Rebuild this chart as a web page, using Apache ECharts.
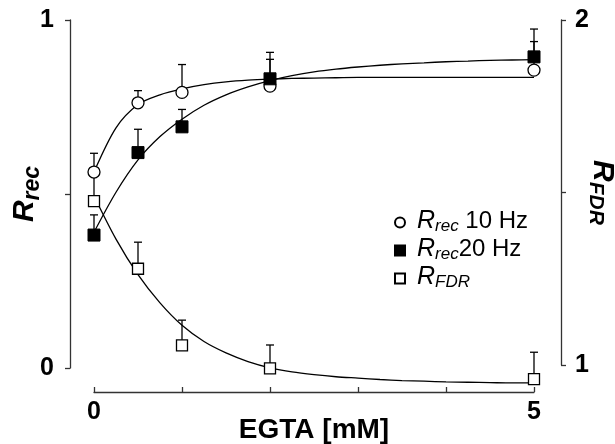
<!DOCTYPE html>
<html>
<head>
<meta charset="utf-8">
<script src="https://cdn.jsdelivr.net/npm/echarts@6/dist/echarts.min.js"></script>
<style>
  html, body { margin: 0; padding: 0; background: #fff; }
  #chart { width: 615px; height: 444px; }
</style>
</head>
<body>
<div id="chart"></div>
<script>
// EGTA concentrations (mM) of the measured points
const egta = [0, 0.5, 1, 2, 5];

// Recovery ratio at 10 Hz (left axis) with upper error
const rrec10 = [0.563, 0.762, 0.792, 0.810, 0.856];
const rrec10Err = [0.054, 0.035, 0.080, 0.077, 0.082];

// Recovery ratio at 20 Hz (left axis) with upper error
const rrec20 = [0.382, 0.619, 0.693, 0.831, 0.894];
const rrec20Err = [0.058, 0.067, 0.050, 0.076, 0.080];

// Frequency-dependent recovery ratio (right axis) with upper error
const rfdr = [1.475, 1.279, 1.057, 0.990, 0.959];
const rfdrErr = [0.080, 0.077, 0.073, 0.068, 0.078];

// Fitted curves sampled every 0.25 mM along the EGTA axis
const fitX = [0, 0.25, 0.5, 0.75, 1, 1.25, 1.5, 1.75, 2, 2.25, 2.5, 2.75, 3, 3.25, 3.5, 3.75, 4, 4.25, 4.5, 4.75, 5];
const fit10 = [0.563, 0.690, 0.757, 0.785, 0.802, 0.814, 0.822, 0.827, 0.830, 0.832, 0.833, 0.834, 0.835, 0.835, 0.835, 0.835, 0.835, 0.835, 0.835, 0.835, 0.835];
const fit20 = [0.390, 0.505, 0.598, 0.665, 0.715, 0.755, 0.785, 0.808, 0.826, 0.840, 0.851, 0.859, 0.865, 0.870, 0.874, 0.877, 0.880, 0.882, 0.884, 0.885, 0.886];
const fitFdr = [1.490, 1.365, 1.262, 1.180, 1.115, 1.068, 1.035, 1.010, 0.992, 0.980, 0.972, 0.966, 0.962, 0.958, 0.955, 0.953, 0.951, 0.950, 0.949, 0.948, 0.948];

// Tick labels (only the ends are labelled)
const xTickLabels = ['0', '', '', '', '', '5'];
const yLeftTickLabels = ['0', '', '1'];
const yRightTickLabels = ['1', '', '2'];

const FONT = 'Liberation Sans, Arial, Helvetica, sans-serif';
const INK = '#000';
const AXIS = '#333';

const pairs = (xs, ys) => xs.map((x, i) => [x, ys[i]]);
const errPairs = (xs, ys, es) => xs.map((x, i) => [x, ys[i], ys[i] + es[i]]);

// Rich-text styles for italic R with subscript
const subRich = (big, small, text, weight, drop) => ({
  R: { fontFamily: FONT, fontSize: big, fontStyle: 'italic', fontWeight: weight, color: INK,
       verticalAlign: 'top', lineHeight: big + 2 },
  s: { fontFamily: FONT, fontSize: small, fontStyle: 'italic', fontWeight: weight, color: INK,
       verticalAlign: 'top', lineHeight: small, padding: [drop, 0, 0, 0] },
  t: { fontFamily: FONT, fontSize: text, fontWeight: weight, color: INK,
       verticalAlign: 'top', lineHeight: big + 2 }
});

const legendText = {
  'Rrec 10 Hz': '{R|R}{s|rec}{t| 10 Hz}',
  'Rrec 20 Hz': '{R|R}{s|rec}{t|20 Hz}',
  'RFDR': '{R|R}{s|FDR}'
};

function errorBars(xAxisIndex, yAxisIndex, data) {
  return {
    type: 'custom',
    xAxisIndex, yAxisIndex,
    clip: false,
    z: 3,
    silent: true,
    data,
    renderItem(params, api) {
      const base = api.coord([api.value(0), api.value(1)]);
      const top = api.coord([api.value(0), api.value(2)]);
      const w = 4;
      const style = { stroke: INK, lineWidth: 1.3 };
      return {
        type: 'group',
        children: [
          { type: 'line', shape: { x1: base[0], y1: base[1], x2: top[0], y2: top[1] }, style },
          { type: 'line', shape: { x1: top[0] - w, y1: top[1], x2: top[0] + w, y2: top[1] }, style }
        ]
      };
    }
  };
}

const curve = (xAxisIndex, yAxisIndex, ys) => ({
  type: 'line',
  xAxisIndex, yAxisIndex,
  data: pairs(fitX, ys),
  smooth: 0.3,
  showSymbol: false,
  clip: false,
  silent: true,
  z: 2,
  lineStyle: { color: INK, width: 1.3 }
});

const axisLineStyle = { color: AXIS, width: 1.3 };

const chart = echarts.init(document.getElementById('chart'), null, { renderer: 'canvas' });

chart.setOption({
  backgroundColor: '#fff',
  animation: false,
  grid: [
    { left: 94, right: 81, top: 20, height: 348, outerBoundsMode: 'none', containLabel: false },
    { left: 94, right: 81, top: 20, height: 345, outerBoundsMode: 'none', containLabel: false }
  ],
  xAxis: [
    {
      gridIndex: 0, type: 'value', min: 0, max: 5, interval: 1,
      position: 'bottom', offset: 24,
      name: 'EGTA [mM]', nameLocation: 'middle', nameGap: 24, nameMoveOverlap: false,
      nameTextStyle: { fontFamily: FONT, fontSize: 28, fontWeight: 'bold', color: INK, verticalAlign: 'top' },
      axisLine: { show: true, onZero: false, lineStyle: axisLineStyle },
      axisTick: { show: true, inside: true, length: 5, lineStyle: axisLineStyle },
      axisLabel: {
        margin: 8, fontFamily: FONT, fontSize: 25, fontWeight: 'bold', color: INK,
        formatter: (v, i) => xTickLabels[i]
      },
      splitLine: { show: false }
    },
    {
      gridIndex: 1, type: 'value', min: 0, max: 5, show: false
    }
  ],
  yAxis: [
    {
      gridIndex: 0, type: 'value', min: 0, max: 1, interval: 0.5,
      position: 'left', offset: 24,
      name: '{R|R}{s|rec}', nameLocation: 'middle', nameGap: 28, nameRotate: 90, nameMoveOverlap: false,
      nameTextStyle: { rich: subRich(30, 23, 30, 'bold', 11) },
      axisLine: { show: true, onZero: false, lineStyle: axisLineStyle },
      axisTick: { show: true, inside: false, length: 5, lineStyle: axisLineStyle },
      axisLabel: {
        margin: 16, fontFamily: FONT, fontSize: 25, fontWeight: 'bold', color: INK,
        formatter: (v, i) => yLeftTickLabels[i]
      },
      splitLine: { show: false }
    },
    {
      gridIndex: 1, type: 'value', min: 1, max: 2, interval: 0.5,
      position: 'right', offset: 27,
      name: '{R|R}{s|FDR}', nameLocation: 'middle', nameGap: 24, nameRotate: -90, nameMoveOverlap: false,
      nameTextStyle: { rich: subRich(30, 21, 30, 'bold', 11) },
      axisLine: { show: true, onZero: false, lineStyle: axisLineStyle },
      axisTick: { show: true, inside: false, length: 5, lineStyle: axisLineStyle },
      axisLabel: {
        margin: 14, fontFamily: FONT, fontSize: 25, fontWeight: 'bold', color: INK,
        formatter: (v, i) => yRightTickLabels[i]
      },
      splitLine: { show: false }
    }
  ],
  legend: {
    orient: 'vertical',
    left: 389, top: 204,
    itemWidth: 10, itemHeight: 10, itemGap: 2,
    selectedMode: false,
    data: ['Rrec 10 Hz', 'Rrec 20 Hz', 'RFDR'],
    formatter: name => legendText[name],
    textStyle: { rich: subRich(25, 17, 24, 'normal', 9), padding: [0, 0, 0, 7] }
  },
  series: [
    curve(0, 0, fit10),
    curve(0, 0, fit20),
    curve(1, 1, fitFdr),
    errorBars(0, 0, errPairs(egta, rrec10, rrec10Err)),
    errorBars(0, 0, errPairs(egta, rrec20, rrec20Err)),
    errorBars(1, 1, errPairs(egta, rfdr, rfdrErr)),
    {
      name: 'Rrec 10 Hz', type: 'scatter', xAxisIndex: 0, yAxisIndex: 0,
      data: pairs(egta, rrec10), symbol: 'circle', symbolSize: 12, clip: false, z: 4,
      itemStyle: { color: '#fff', borderColor: INK, borderWidth: 1.3, opacity: 1 }
    },
    {
      name: 'RFDR', type: 'scatter', xAxisIndex: 1, yAxisIndex: 1,
      data: pairs(egta, rfdr), symbol: 'rect', symbolSize: 11, clip: false, z: 4,
      itemStyle: { color: '#fff', borderColor: INK, borderWidth: 1.3, opacity: 1 }
    },
    {
      name: 'Rrec 20 Hz', type: 'scatter', xAxisIndex: 0, yAxisIndex: 0,
      data: pairs(egta, rrec20), symbol: 'rect', symbolSize: 12, clip: false, z: 5,
      itemStyle: { color: INK, borderColor: INK, borderWidth: 1, opacity: 1 }
    }
  ]
});
</script>
</body>
</html>
